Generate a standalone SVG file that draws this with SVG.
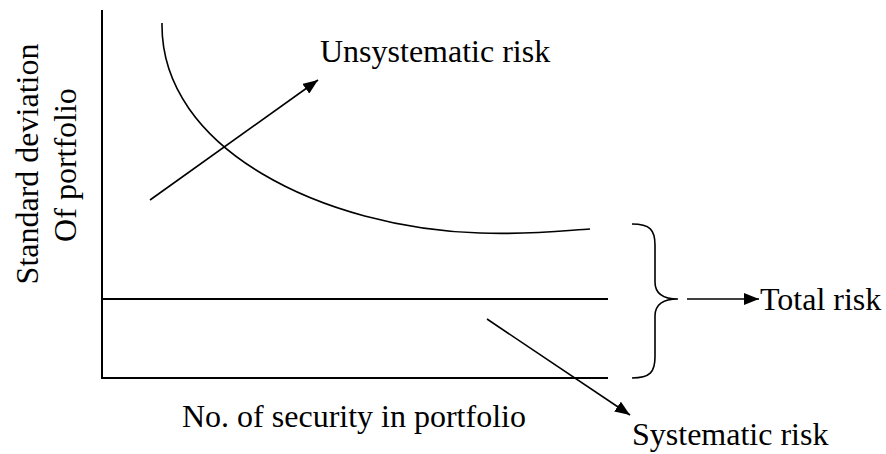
<svg xmlns="http://www.w3.org/2000/svg" width="886" height="454" viewBox="0 0 886 454">
  <style>
    .ln { fill: none; stroke: #000; stroke-width: 2; }
    .thin { fill: none; stroke: #000; stroke-width: 1.6; }
    .lbl { font-family: "Liberation Serif", "Times New Roman", serif; font-size: 32px; fill: #000; }
  </style>
  <defs>
    <marker id="arrow" viewBox="0 0 15 12" refX="15" refY="6" markerWidth="15" markerHeight="12" markerUnits="userSpaceOnUse" orient="auto">
      <path d="M0,0 L15,6 L0,12 Z" fill="#000"/>
    </marker>
  </defs>
  <rect width="886" height="454" fill="#fff"/>

  <!-- axes and the systematic-risk level -->
  <g id="axes">
    <line class="ln" x1="102" y1="10" x2="102" y2="379"/>
    <line class="ln" x1="101" y1="378" x2="608" y2="378"/>
    <line class="ln" x1="102" y1="299" x2="608" y2="299"/>
  </g>

  <!-- total risk curve -->
  <g id="risk-curve">
    <path class="thin" d="M162,23 C160,150 325,228 480,233 C530,235 570,230 590,229"/>
  </g>

  <!-- brace spanning total risk -->
  <g id="brace">
    <path class="thin" d="M632,224 C650,224 655,230 655,245 L655,282 C655,294 664,299 678,299 C664,299 655,304 655,316 L655,357 C655,372 650,378 632,378"/>
  </g>

  <g id="connectors">
    <line class="thin" x1="150" y1="200" x2="318" y2="80" marker-end="url(#arrow)"/>
    <line class="thin" x1="487" y1="319" x2="630" y2="415" marker-end="url(#arrow)"/>
    <line class="thin" x1="687" y1="299" x2="759" y2="299" marker-end="url(#arrow)"/>
  </g>

  <g id="labels">
    <text class="lbl" x="320" y="62">Unsystematic risk</text>
    <text class="lbl" x="760" y="310">Total risk</text>
    <text class="lbl" x="632" y="445">Systematic risk</text>
    <text class="lbl" x="182" y="427">No. of security in portfolio</text>
    <text class="lbl" text-anchor="middle" transform="translate(38,164) rotate(-90)">Standard deviation</text>
    <text class="lbl" text-anchor="middle" transform="translate(76,165) rotate(-90)">Of portfolio</text>
  </g>
</svg>
